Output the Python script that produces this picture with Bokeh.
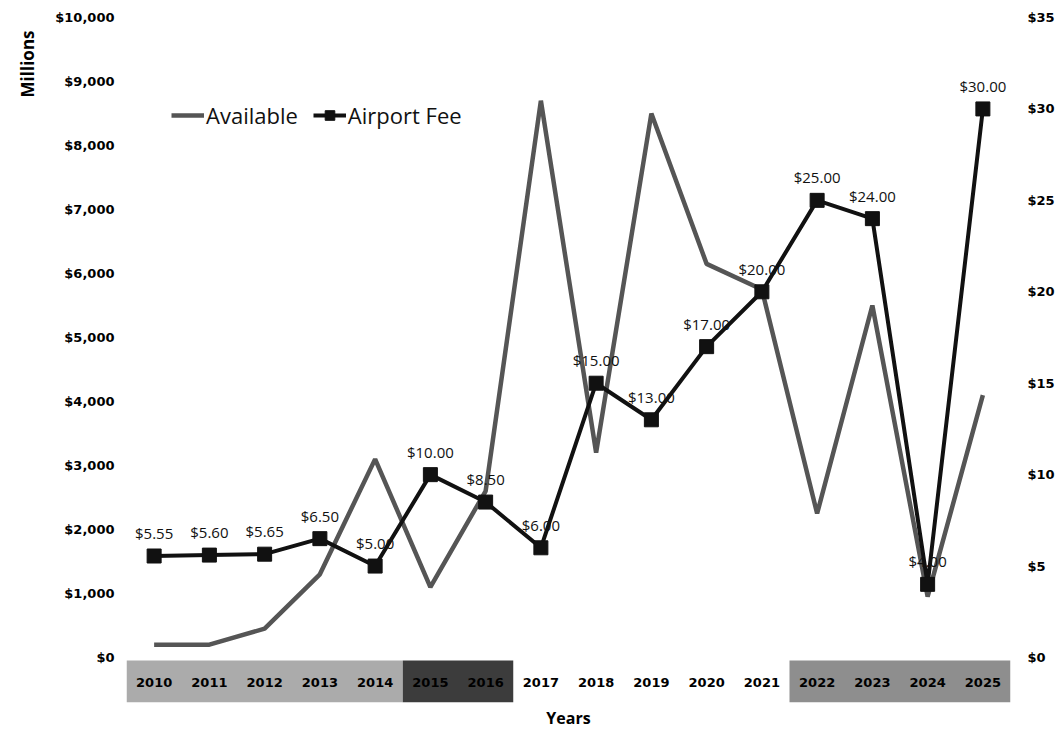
from bokeh.plotting import figure
from bokeh.models import (Range1d, LinearAxis, FixedTicker, NumeralTickFormatter,
                          Legend, LegendItem, ColumnDataSource, Title)
from bokeh.core.properties import value
from bokeh.embed import file_html
from bokeh.resources import INLINE

# ---------------- data ----------------
years = list(range(2010, 2026))
year_labels = [str(y) for y in years]
available = [200, 200, 450, 1300, 3100, 1100, 2600, 8700, 3200, 8500,
             6150, 5750, 2250, 5500, 950, 4100]
airport_fee = [5.55, 5.60, 5.65, 6.50, 5.00, 10.00, 8.50, 6.00, 15.00, 13.00,
               17.00, 20.00, 25.00, 24.00, 4.00, 30.00]
fee_labels = ["$%.2f" % v for v in airport_fee]
left_ticks = list(range(0, 10001, 1000))
right_ticks = list(range(0, 36, 5))
band_first = [2010, 2015, 2022]
band_last = [2014, 2016, 2025]
band_colors = ["#ababab", "#3c3c3c", "#8e8e8e"]

# ---------------- layout constants ----------------
FRAME_H = 685
LEFT_MAX = 10000
RIGHT_MAX = 35
PX_ABOVE_ZERO = 640
UNITS_PER_PX = LEFT_MAX / PX_ABOVE_ZERO
LEFT_MIN = -(FRAME_H - PX_ABOVE_ZERO) * UNITS_PER_PX
RIGHT_MIN = -(FRAME_H - PX_ABOVE_ZERO) * RIGHT_MAX / PX_ABOVE_ZERO
BAND_TOP = -3 * UNITS_PER_PX
YEAR_Y = -25 * UNITS_PER_PX

p = figure(width=1062, height=735, output_backend="svg",
           toolbar_location=None,
           x_range=Range1d(2009.5, 2025.5), y_range=Range1d(LEFT_MIN, LEFT_MAX),
           min_border_left=120, min_border_right=52, min_border_top=17,
           min_border_bottom=33)
p.extra_y_ranges = {"fee": Range1d(RIGHT_MIN, RIGHT_MAX)}
p.outline_line_color = None
p.grid.visible = False
p.background_fill_color = "white"

# year band
band_src = ColumnDataSource(dict(
    left=[b - 0.5 for b in band_first], right=[b + 0.5 for b in band_last],
    color=band_colors))
p.quad(left="left", right="right", bottom=LEFT_MIN, top=BAND_TOP,
       fill_color="color", line_color=None, source=band_src)
p.text(x=years, y=[YEAR_Y] * len(years), text=year_labels,
       text_align="center", text_baseline="middle",
       text_font=value("DejaVu Sans"), text_font_style="bold",
       text_font_size="13px", text_color="#000000")

# lines
r_avail = p.line(years, available, line_color="#555555", line_width=4.5)
r_fee = p.line(years, airport_fee, line_color="#111111", line_width=4,
               y_range_name="fee")
r_pts = p.scatter(years, airport_fee, marker="square", size=14,
                  fill_color="#111111", line_color="#111111", y_range_name="fee")
p.text(x=years, y=airport_fee, text=fee_labels, y_range_name="fee",
       y_offset=-23, text_align="center", text_baseline="middle",
       text_font=value("Open Sans"), text_font_size="15px", text_color="#111111")

# axes
def plain(ax):
    ax.axis_line_color = None
    ax.major_tick_line_color = None
    ax.minor_tick_line_color = None
    ax.major_tick_out = 0
    ax.major_tick_in = 0
    ax.minor_tick_out = 0
    ax.minor_tick_in = 0

yl = p.yaxis[0]
plain(yl)
yl.ticker = FixedTicker(ticks=left_ticks)
yl.formatter = NumeralTickFormatter(format="$0,0")
yl.major_label_standoff = 12
yl.major_label_text_font = "DejaVu Sans"
yl.major_label_text_font_style = "bold"
yl.major_label_text_font_size = "13px"
yl.major_label_text_color = "#000000"

# "Millions" title at the top of the left side
p.add_layout(Title(text="Millions", align="right", offset=13, standoff=27,
                   text_font="Open Sans", text_font_style="bold",
                   text_font_size="17px", text_color="#000000"), "left")

yr = LinearAxis(y_range_name="fee", ticker=FixedTicker(ticks=right_ticks),
                formatter=NumeralTickFormatter(format="$0"))
plain(yr)
yr.major_label_standoff = 17
yr.major_label_text_font = "DejaVu Sans"
yr.major_label_text_font_style = "bold"
yr.major_label_text_font_size = "13px"
yr.major_label_text_color = "#000000"
p.add_layout(yr, "right")

xa = p.xaxis[0]
plain(xa)
xa.ticker = FixedTicker(ticks=[])
xa.major_label_text_font_size = "0px"
xa.major_label_standoff = 0
xa.axis_label = "Years"
xa.axis_label_text_font = "Open Sans"
xa.axis_label_text_font_style = "bold"
xa.axis_label_text_font_size = "16px"
xa.axis_label_text_color = "#000000"
xa.axis_label_standoff = 4

legend = Legend(items=[LegendItem(label="Available", renderers=[r_avail]),
                       LegendItem(label="Airport Fee", renderers=[r_fee, r_pts])],
                location=(45, 572), orientation="horizontal",
                label_text_font="Open Sans", label_text_font_size="22px",
                label_text_color="#111111", glyph_width=33, glyph_height=24,
                label_standoff=2, spacing=15, padding=0, margin=0,
                background_fill_alpha=0, border_line_color=None)
p.add_layout(legend)

open("out.html", "w").write(file_html(p, INLINE))
